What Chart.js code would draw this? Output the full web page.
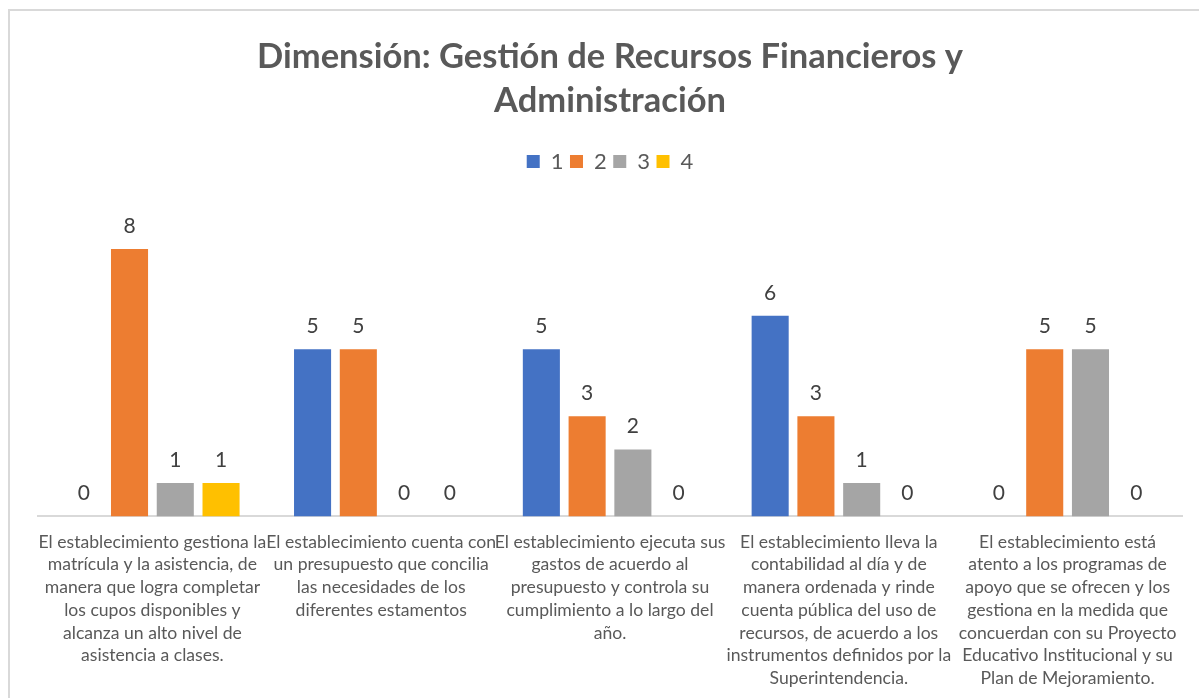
<!DOCTYPE html>
<html>
<head>
<meta charset="utf-8">
<script src="https://cdn.jsdelivr.net/npm/chart.js@4/dist/chart.umd.min.js"></script>
<style>
  html, body { margin: 0; padding: 0; background: #fff; }
  #wrap { position: relative; width: 1199px; height: 698px; overflow: hidden; }
  #frame { position: absolute; left: 8px; top: 9px; width: 1300px; height: 800px;
           border-left: 2px solid #d9d9d9; border-top: 2px solid #d9d9d9; box-sizing: border-box; }
  canvas { position: absolute; left: 0; top: 0; }
</style>
</head>
<body>
<div id="wrap">
  <div id="frame"></div>
  <canvas id="c" width="1199" height="713"></canvas>
</div>
<script>
const titleLines = ["Dimensión: Gestión de Recursos Financieros y", "Administración"];
const categories = [
  ["El establecimiento gestiona la", "matrícula y la asistencia, de", "manera que logra completar", "los cupos disponibles y", "alcanza un alto nivel de", "asistencia a clases."],
  ["El establecimiento cuenta con", "un presupuesto que concilia", "las necesidades de los", "diferentes estamentos"],
  ["El establecimiento ejecuta sus", "gastos de acuerdo al", "presupuesto y controla su", "cumplimiento a lo largo del", "año."],
  ["El establecimiento lleva la", "contabilidad al día y de", "manera ordenada y rinde", "cuenta pública del uso de", "recursos, de acuerdo a los", "instrumentos definidos por la", "Superintendencia."],
  ["El establecimiento está", "atento a los programas de", "apoyo que se ofrecen y los", "gestiona en la medida que", "concuerdan con su Proyecto", "Educativo Institucional y su", "Plan de Mejoramiento."]
];
const seriesNames = ["1", "2", "3", "4"];
const series1 = [0, 5, 5, 6, 0];
const series2 = [8, 5, 3, 3, 5];
const series3 = [1, 0, 2, 1, 5];
const series4 = [1, 0, 0, 0, 0];
const seriesColors = ["#4472C4", "#ED7D31", "#A5A5A5", "#FFC000"];

const FONT = "Lato, 'Open Sans', sans-serif";

const valueLabels = {
  id: 'valueLabels',
  afterDatasetsDraw(chart) {
    const ctx = chart.ctx;
    ctx.save();
    ctx.font = "21px " + FONT;
    ctx.fillStyle = "#404040";
    ctx.textAlign = "center";
    ctx.textBaseline = "middle";
    chart.data.datasets.forEach((ds, i) => {
      const meta = chart.getDatasetMeta(i);
      meta.data.forEach((bar, j) => {
        ctx.fillText(String(ds.data[j]), bar.x, bar.y - 23);
      });
    });
    ctx.restore();
  }
};

const legendGap = {
  id: 'legendGap',
  beforeInit(chart) {
    const lg = chart.legend;
    if (!lg) return;
    const origFit = lg.fit;
    lg.fit = function () {
      origFit.call(this);
      this.height += 33;
    };
  }
};

const allSeries = [series1, series2, series3, series4];

new Chart(document.getElementById('c'), {
  type: 'bar',
  data: {
    labels: categories,
    datasets: allSeries.map((d, i) => ({
      label: seriesNames[i],
      data: d,
      backgroundColor: seriesColors[i],
      borderWidth: 0,
      categoryPercentage: 0.8,
      barPercentage: 0.81
    }))
  },
  options: {
    responsive: false,
    animation: false,
    devicePixelRatio: 1,
    layout: { padding: { left: 38, right: 17, top: 10, bottom: 9 } },
    plugins: {
      title: {
        display: true,
        text: titleLines,
        color: "#595959",
        font: { family: FONT, size: 34.5, weight: 'bold', lineHeight: 1.275 },
        padding: { top: 25, bottom: 21 }
      },
      legend: {
        display: true,
        position: 'top',
        labels: {
          color: "#595959",
          font: { family: FONT, size: 22 },
          boxWidth: 13,
          boxHeight: 13,
          padding: 6.5
        }
      },
      tooltip: { enabled: false }
    },
    scales: {
      x: {
        grid: { display: false, drawTicks: false },
        border: { display: true, color: "#d9d9d9", width: 2 },
        ticks: {
          color: "#595959",
          font: { family: FONT, size: 17.6, lineHeight: 1.295 },
          padding: 14,
          autoSkip: false,
          maxRotation: 0,
          minRotation: 0
        }
      },
      y: {
        display: false,
        min: 0,
        max: 9
      }
    }
  },
  plugins: [valueLabels, legendGap]
});
</script>
</body>
</html>
